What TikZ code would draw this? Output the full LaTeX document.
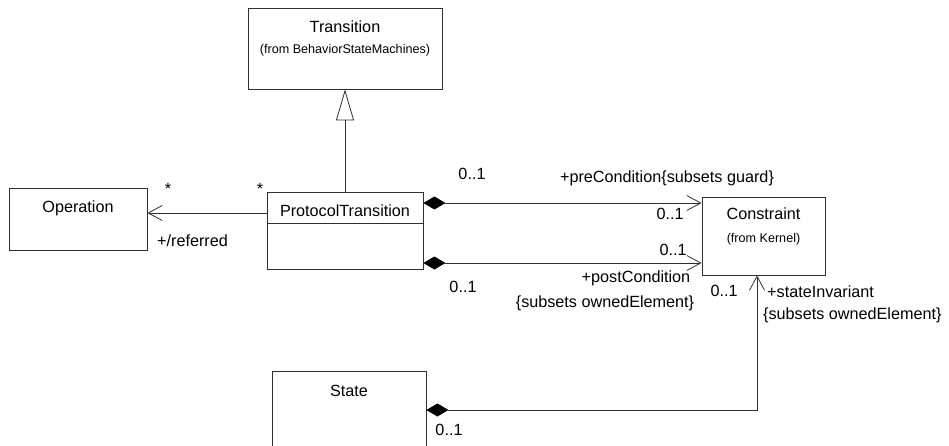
\documentclass[tikz,border=0pt]{standalone}
\usepackage{fontspec}
\setmainfont{Liberation Sans}
\usetikzlibrary{arrows.meta,positioning}
\definecolor{ink}{HTML}{000000}
\definecolor{edgeLine}{HTML}{303030}
\tikzset{
  every node/.append style = {text=ink},
  % --- classes -------------------------------------------------------------
  umlclass/.style  = {draw=edgeLine, fill=white, line width=0.8pt, inner sep=0pt},
  clsname/.style   = {font=\fontsize{16.2}{19}\selectfont, inner sep=0pt, anchor=base},
  clsfrom/.style   = {font=\fontsize{12.6}{14}\selectfont, inner sep=0pt, anchor=base},
  % --- relations -----------------------------------------------------------
  generalize/.style = {draw=edgeLine, line width=0.8pt,
                       -{Triangle[open, length=31pt, width=18pt, line width=0.8pt]}},
  navassoc/.style   = {draw=edgeLine, line width=0.8pt,
                       -{Straight Barb[length=14pt, width=15pt, line width=0.8pt]}},
  composite/.style  = {draw=edgeLine, line width=0.8pt,
                       {Diamond[length=22pt, width=13pt, color=black, fill=black]}-{Straight Barb[length=14pt, width=15pt, line width=0.8pt]}},
  % --- labels --------------------------------------------------------------
  rolelbl/.style   = {font=\fontsize{16.2}{19}\selectfont, inner sep=0pt, anchor=base},
}

\begin{document}
\begin{tikzpicture}[x=1pt, y=-1pt]
\useasboundingbox (0,0) rectangle (949,446);
\clip (0,0) rectangle (949,446);

% ==================== classes ==============================================
\node[umlclass, minimum width=194pt, minimum height=81pt] (trans) at (345,48.5) {};
\node[clsname] (transname) at (345,33) {Transition};
\node[clsfrom] (transfrom) at (345,54) {(from BehaviorStateMachines)};

\node[umlclass, minimum width=138pt, minimum height=62pt] (oper) at (78,219) {};
\node[clsname] (opername) at (78,213) {Operation};

\node[umlclass, minimum width=156pt, minimum height=77pt] (ptrans) at (345,230.5) {};
\node[clsname] (ptransname) at (345,217) {ProtocolTransition};
\draw[edgeLine, line width=0.8pt] ([yshift=-32pt]ptrans.north west) -- ([yshift=-32pt]ptrans.north east);

\node[umlclass, minimum width=123pt, minimum height=78pt] (constr) at (763.5,236) {};
\node[clsname] (constrname) at (763.5,220) {Constraint};
\node[clsfrom] (constrfrom) at (763.5,242) {(from Kernel)};

\node[umlclass, minimum width=154pt, minimum height=110pt] (state) at (349,426) {};
\node[clsname] (statename) at (349,396) {State};

% ==================== relations ============================================
\draw[generalize] (ptrans.north) -- (trans.south);
\draw[navassoc] ([yshift=17.5pt]ptrans.west) -- ([yshift=17.5pt]ptrans.west -| oper.east);
\draw[composite] ([yshift=27.5pt]ptrans.east) -- ([yshift=27.5pt]ptrans.east -| constr.west);
\draw[composite] ([yshift=-32.5pt]ptrans.east) -- ([yshift=-32.5pt]ptrans.east -| constr.west);
\draw[composite] ([yshift=16pt]state.east) -| ([xshift=-6.5pt]constr.south);

% ==================== role names and multiplicities ========================
\foreach \x/\y/\m [count=\i] in {168/195/*, 260/195/*, 472/180/{0..1}, 670/220/{0..1},
                                 673/255/{0..1}, 463/292/{0..1}, 724/296/{0..1}, 449/435/{0..1}}{
  \node[rolelbl] (mult\i) at (\x,\y) {\m};}

\node[rolelbl, anchor=base west] (referred) at (157,247) {+/referred};
\node[rolelbl] (precond) at (667,183) {+preCondition\{subsets guard\}};
\node[rolelbl] (postcond) at (636,282) {+postCondition};
\node[rolelbl] (postsub) at (605,307) {\{subsets ownedElement\}};
\node[rolelbl, anchor=base west] (stateinv) at (767,297) {+stateInvariant};
\node[rolelbl, anchor=base west] (statesub) at (763,319) {\{subsets ownedElement\}};

\end{tikzpicture}
\end{document}
